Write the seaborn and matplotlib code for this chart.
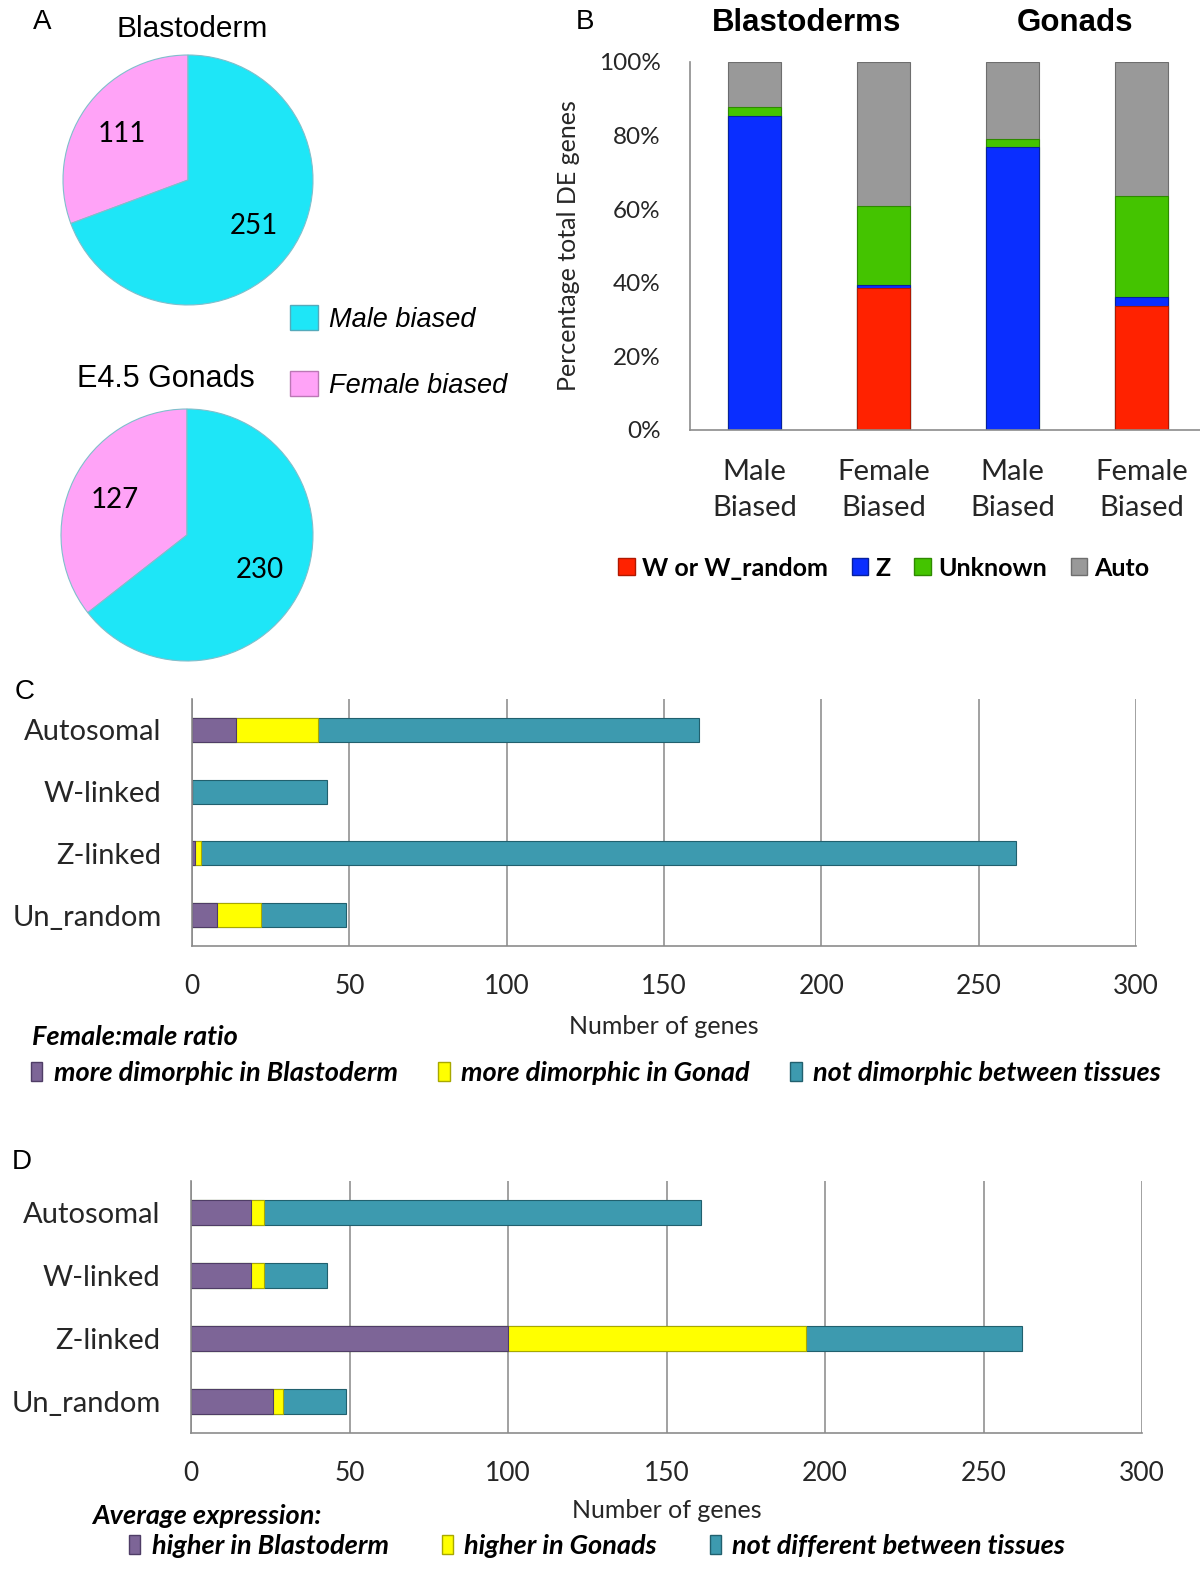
import numpy as np
import pandas as pd
import matplotlib
matplotlib.use("Agg")
import matplotlib.pyplot as plt
from matplotlib.patches import Patch
from matplotlib.ticker import FuncFormatter
from matplotlib import font_manager
import seaborn as sns

# --- data ---
pie_labels = ['Female biased', 'Male biased']
blastoderm_counts = [111, 251]
gonad_counts = [127, 230]

b_keys = ['Blastoderm male', 'Blastoderm female', 'Gonad male', 'Gonad female']
b_groups = ['Male\nBiased', 'Female\nBiased', 'Male\nBiased', 'Female\nBiased']
b_series = ['W or W_random', 'Z', 'Unknown', 'Auto']
b_w = [0.0, 38.7, 0.0, 33.7]
b_z = [85.3, 0.8, 76.8, 2.5]
b_unknown = [2.5, 21.4, 2.4, 27.4]
b_auto = [12.2, 39.1, 20.8, 36.4]

chrom = ['Autosomal', 'W-linked', 'Z-linked', 'Un_random']
c_labels = ['more dimorphic in Blastoderm', 'more dimorphic in Gonad', 'not dimorphic between tissues']
c_blast = [14, 0, 1, 8]
c_gonad = [26, 0, 2, 14]
c_none = [121, 43, 259, 27]

d_labels = ['higher in Blastoderm', 'higher in Gonads', 'not different between tissues']
d_blast = [19, 19, 100, 26]
d_gonad = [4, 4, 94, 3]
d_none = [138, 20, 68, 20]

# --- style ---
CYAN, PINK = '#1EE6F7', '#FFA3F7'
B_COLORS = ['#FF2200', '#0A2EFF', '#44C400', '#999999']
B_EDGES = ['#B01800', '#06209E', '#2E8A00', '#6E6E6E']
CD_COLORS = ['#7D6597', '#FFFF00', '#3D9AAF']
CD_EDGES = ['#4F3D66', '#A8A800', '#21606E']
AX_GRAY = '#8C8C8C'

sns.set_style('white')
names = {f.name for f in font_manager.fontManager.ttflist}
NARROW = 'Liberation Sans Narrow' if 'Liberation Sans Narrow' in names else 'Lato'
CAL = 'Lato'
ARIAL = 'Liberation Sans'
plt.rcParams['font.family'] = [CAL, 'DejaVu Sans']
plt.rcParams['text.color'] = 'black'

W, H = 1200, 1575


def rect(x0, y0, x1, y1):
    return [x0 / W, 1 - y1 / H, (x1 - x0) / W, (y1 - y0) / H]


def fy(y):
    return 1 - y / H


fig = plt.figure(figsize=(12, 15.75), dpi=100)

# --- A: pies ---
def draw_pie(ax, counts):
    total = sum(counts)
    ax.pie(counts, colors=[PINK, CYAN], startangle=90, counterclock=True,
           autopct=lambda p: f'{p * total / 100:.0f}', pctdistance=0.64,
           wedgeprops=dict(edgecolor='#7FBFCC', linewidth=0.8),
           textprops=dict(fontsize=20, family=CAL, color='black'))
    ax.set_xlim(-1, 1)
    ax.set_ylim(-1, 1)
    ax.set_aspect('equal')
    ax.axis('off')


axA1 = fig.add_axes(rect(63, 55, 313, 305))
draw_pie(axA1, blastoderm_counts)
axA2 = fig.add_axes(rect(61, 409, 313, 661))
draw_pie(axA2, gonad_counts)

fig.text(42 / W, fy(22), 'A', ha='center', va='center', fontsize=20, family=ARIAL)
fig.text(192 / W, fy(29), 'Blastoderm', ha='center', va='center', fontsize=21.5, family=ARIAL)
fig.text(166 / W, fy(379), 'E4.5 Gonads', ha='center', va='center', fontsize=22, family=ARIAL)

axA1.legend(handles=[Patch(facecolor=CYAN, edgecolor='#55AABB'), Patch(facecolor=PINK, edgecolor='#BB77B5')],
            labels=['Male biased', 'Female biased'], loc='upper left',
            bbox_to_anchor=(290 / W, fy(305)), bbox_transform=fig.transFigure,
            frameon=False, prop=dict(family=ARIAL, style='italic', size=19.5),
            borderpad=0, borderaxespad=0,
            handlelength=1.05, handleheight=1.05, handletextpad=0.4, labelspacing=1.42)

# --- B: stacked percentage bars ---
axB = fig.add_axes(rect(690, 62, 1206, 430))
b_cum = np.cumsum(np.array([b_w, b_z, b_unknown, b_auto]), axis=0)
for i in range(3, -1, -1):
    sns.barplot(x=b_keys, y=b_cum[i], color=B_COLORS[i], saturation=1, width=0.41,
                errorbar=None, edgecolor=B_EDGES[i], linewidth=0.8, ax=axB)
axB.set_xlim(-0.5, 3.5)
axB.set_ylim(0, 100)
axB.set_yticks(range(0, 101, 20))
axB.yaxis.set_major_formatter(FuncFormatter(lambda v, _: f'{v:.0f}%'))
axB.set_xticks(range(4))
axB.set_xticklabels(b_groups, fontsize=21, linespacing=1.45)
axB.set_xticks(np.arange(-0.5, 4, 1), minor=True)
axB.tick_params(axis='x', which='major', length=0, pad=21)
axB.tick_params(axis='x', which='minor', length=9, width=1.2, color=AX_GRAY)
axB.tick_params(axis='y', length=9, width=1.2, color=AX_GRAY, pad=12, labelsize=17.5)
for s in ['top', 'right']:
    axB.spines[s].set_visible(False)
for s in ['left', 'bottom']:
    axB.spines[s].set_color(AX_GRAY)
    axB.spines[s].set_linewidth(1.2)
axB.set_xlabel('')
axB.set_ylabel('Percentage total DE genes', fontsize=18)
axB.yaxis.set_label_coords(-(690 - 580) / 516, 0.5)

fig.text(585 / W, fy(22), 'B', ha='center', va='center', fontsize=20, family=ARIAL)
fig.text(807 / W, fy(23), 'Blastoderms', ha='center', va='center', fontsize=22.5, weight='bold', family=ARIAL)
fig.text(1075 / W, fy(23), 'Gonads', ha='center', va='center', fontsize=22.5, weight='bold', family=ARIAL)

axB.legend(handles=[Patch(facecolor=c, edgecolor=e) for c, e in zip(B_COLORS, B_EDGES)],
           labels=b_series, loc='center', bbox_to_anchor=(884 / W, fy(568)),
           bbox_transform=fig.transFigure, ncol=4, frameon=False,
           prop=dict(family=CAL, weight='bold', size=18),
           borderpad=0, borderaxespad=0,
           handlelength=0.65, handleheight=0.65, handletextpad=0.3, columnspacing=0.95)


# --- C / D: stacked horizontal bars ---
def stacked_barh(ax, parts):
    cum = np.cumsum(np.array(parts), axis=0)
    for i in range(len(parts) - 1, -1, -1):
        sns.barplot(x=cum[i], y=chrom, orient='h', color=CD_COLORS[i], saturation=1,
                    width=0.39, errorbar=None, edgecolor=CD_EDGES[i], linewidth=0.8, ax=ax)
    ax.set_xlim(0, 300)
    ax.set_ylim(3.5, -0.5)
    ax.set_xticks(range(0, 301, 50))
    ax.set_yticks(range(4))
    ax.set_yticklabels(chrom, fontsize=21)
    ax.set_yticks(np.arange(-0.5, 4, 1), minor=True)
    ax.grid(axis='x', color='#9A9A9A', linewidth=1.3)
    ax.grid(axis='y', visible=False)
    ax.set_axisbelow(True)
    ax.tick_params(axis='y', which='major', length=0, pad=22)
    ax.tick_params(axis='y', which='minor', length=10, width=1.2, color=AX_GRAY)
    ax.tick_params(axis='x', length=8, width=1.2, color=AX_GRAY, pad=12)
    for lab in ax.get_xticklabels():
        lab.set_fontfamily(NARROW)
        lab.set_fontsize(19)
    for s in ['top', 'right']:
        ax.spines[s].set_visible(False)
    for s in ['left', 'bottom']:
        ax.spines[s].set_color(AX_GRAY)
        ax.spines[s].set_linewidth(1.2)
    ax.set_ylabel('')
    ax.set_xlabel('Number of genes', fontsize=18, family=NARROW)


leg_kw = dict(loc='center left', bbox_transform=fig.transFigure, ncol=3, frameon=False,
              prop=dict(family=NARROW, weight='bold', style='italic', size=19.5),
              borderpad=0, borderaxespad=0,
              handlelength=0.42, handleheight=0.72, handletextpad=0.42)

axC = fig.add_axes(rect(192, 699, 1136, 946))
stacked_barh(axC, [c_blast, c_gonad, c_none])
axC.xaxis.set_label_coords(0.5, -(1026 - 946) / 247)
axC.xaxis.label.set_va('center')
fig.text(25 / W, fy(692), 'C', ha='center', va='center', fontsize=20, family=ARIAL)
fig.text(32 / W, fy(1037), 'Female:male ratio', ha='left', va='center', fontsize=19.5,
         weight='bold', style='italic', family=NARROW)
axC.legend(handles=[Patch(facecolor=c, edgecolor=e) for c, e in zip(CD_COLORS, CD_EDGES)],
           labels=c_labels, bbox_to_anchor=(31 / W, fy(1073)), columnspacing=1.5, **leg_kw)

axD = fig.add_axes(rect(191, 1181, 1142, 1433))
stacked_barh(axD, [d_blast, d_gonad, d_none])
axD.xaxis.set_label_coords(0.5, -(1511 - 1433) / 252)
axD.xaxis.label.set_va('center')
fig.text(22 / W, fy(1162), 'D', ha='center', va='center', fontsize=20, family=ARIAL)
fig.text(92 / W, fy(1516), 'Average expression:', ha='left', va='center', fontsize=19.5,
         weight='bold', style='italic', family=NARROW)
axD.legend(handles=[Patch(facecolor=c, edgecolor=e) for c, e in zip(CD_COLORS, CD_EDGES)],
           labels=d_labels, bbox_to_anchor=(129 / W, fy(1546)), columnspacing=1.95, **leg_kw)

fig.savefig('out.png', dpi=100)
